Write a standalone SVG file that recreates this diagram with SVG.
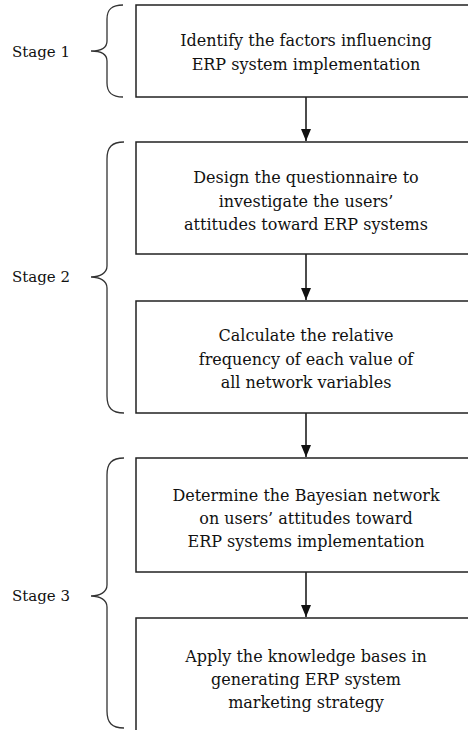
<svg xmlns="http://www.w3.org/2000/svg" width="468" height="730" viewBox="0 0 468 730">
  <defs>
    <style>
      .box { fill: #ffffff; stroke: #222222; stroke-width: 1.5; }
      .t { font-family: "DejaVu Serif", "Liberation Serif", serif; font-size: 16px; fill: #111111; text-anchor: middle; }
      .lbl { font-family: "DejaVu Serif", "Liberation Serif", serif; font-size: 15px; fill: #111111; }
      .brace { fill: none; stroke: #333333; stroke-width: 1.3; }
      .conn { stroke: #111111; stroke-width: 1.5; fill: none; marker-end: url(#arr); }
    </style>
    <marker id="arr" viewBox="0 0 12 10" refX="12" refY="5" markerWidth="12" markerHeight="10" markerUnits="userSpaceOnUse" orient="auto">
      <path d="M0,0 L12,5 L0,10 Z" fill="#111111"/>
    </marker>
  </defs>
  <rect width="468" height="730" fill="#ffffff"/>

  <g id="connectors">
    <line class="conn" x1="306" y1="97" x2="306" y2="141"/>
    <line class="conn" x1="306" y1="254" x2="306" y2="300"/>
    <line class="conn" x1="306" y1="413" x2="306" y2="457"/>
    <line class="conn" x1="306" y1="572" x2="306" y2="617"/>
  </g>

  <g id="stage1">
    <path class="brace" d="M123 5 C112 5 107 9 107 19 L107 41 C107 48 100 51 91 51 C100 51 107 54 107 61 L107 83 C107 93 112 97 123 97"/>
    <text class="lbl" x="12" y="57">Stage 1</text>
  </g>
  <g id="stage2">
    <path class="brace" d="M124 142 C112 142 107 147 107 159 L107 266 C107 273 100 277 91 277 C100 277 107 281 107 288 L107 396 C107 408 112 413 124 413"/>
    <text class="lbl" x="12" y="282">Stage 2</text>
  </g>
  <g id="stage3">
    <path class="brace" d="M124 458 C112 458 107 463 107 475 L107 585 C107 592 100 596 91 596 C100 596 107 600 107 607 L107 711 C107 723 112 728 124 728"/>
    <text class="lbl" x="12" y="601">Stage 3</text>
  </g>

  <g id="node1">
    <rect class="box" x="136" y="5" width="340" height="92"/>
    <text class="t" x="306" y="46">Identify the factors influencing</text>
    <text class="t" x="306" y="70">ERP system implementation</text>
  </g>
  <g id="node2">
    <rect class="box" x="136" y="142" width="340" height="112"/>
    <text class="t" x="306" y="183">Design the questionnaire to</text>
    <text class="t" x="306" y="207">investigate the users’</text>
    <text class="t" x="306" y="230">attitudes toward ERP systems</text>
  </g>
  <g id="node3">
    <rect class="box" x="136" y="301" width="340" height="112"/>
    <text class="t" x="306" y="341">Calculate the relative</text>
    <text class="t" x="306" y="365">frequency of each value of</text>
    <text class="t" x="306" y="388">all network variables</text>
  </g>
  <g id="node4">
    <rect class="box" x="136" y="458" width="340" height="114"/>
    <text class="t" x="306" y="501">Determine the Bayesian network</text>
    <text class="t" x="306" y="524">on users’ attitudes toward</text>
    <text class="t" x="306" y="547">ERP systems implementation</text>
  </g>
  <g id="node5">
    <rect class="box" x="136" y="618" width="340" height="130"/>
    <text class="t" x="306" y="662">Apply the knowledge bases in</text>
    <text class="t" x="306" y="685">generating ERP system</text>
    <text class="t" x="306" y="708">marketing strategy</text>
  </g>
</svg>
